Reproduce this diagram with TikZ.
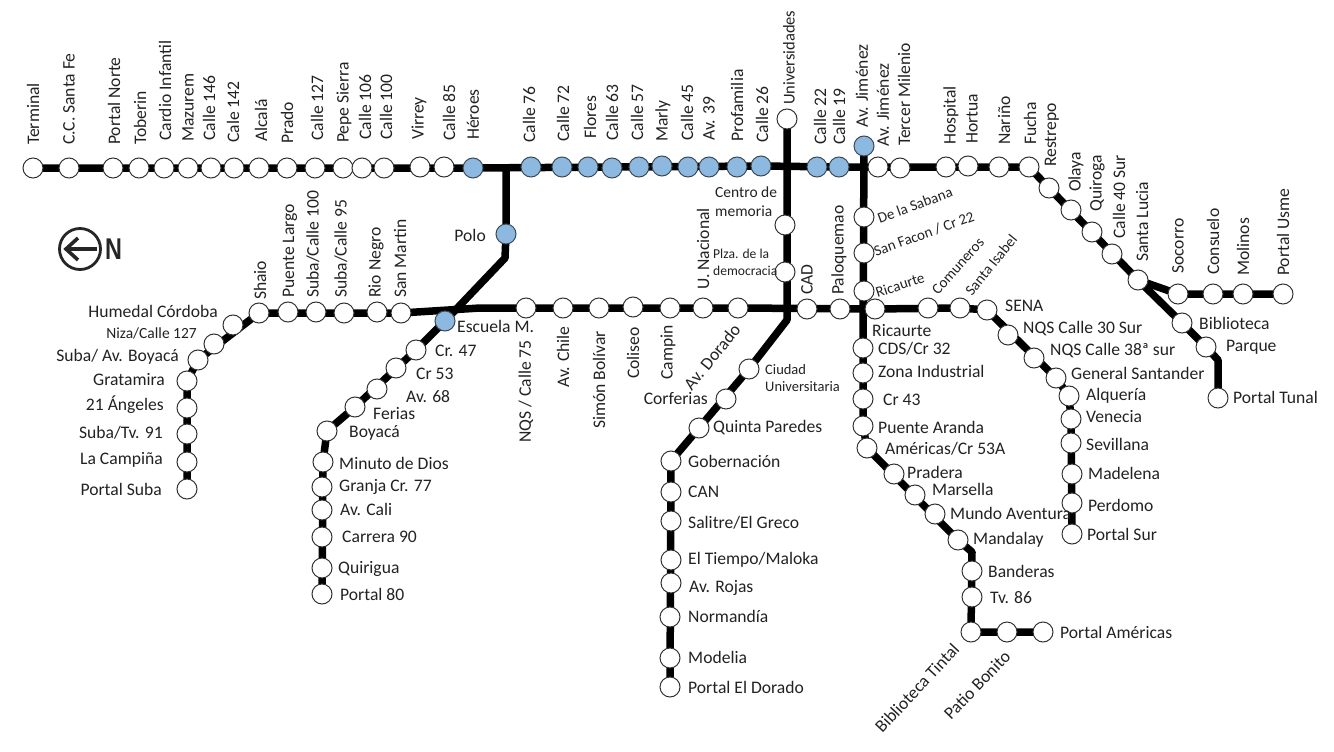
\documentclass[tikz,border=0pt]{standalone}
\usepackage{fontspec}
\setmainfont{Carlito}
\newfontfamily\nfont{Liberation Sans}
\pgfdeclarelayer{bg}
\pgfsetlayers{bg,main}
\definecolor{stblue}{HTML}{8DB8DF}
\definecolor{stedge}{HTML}{3C4A55}
\definecolor{txt}{HTML}{222222}
\tikzset{
  sta/.style={circle,draw=black!80,fill=white,line width=1pt,minimum size=20pt,inner sep=0pt},
  stb/.style={sta,fill=stblue,draw=stedge},
  lbl/.style={inner sep=0pt,text=txt,font=\fontsize{17.6}{20}\selectfont},
  small/.style={font=\fontsize{15}{17}\selectfont},
  up/.style={lbl,rotate=90,anchor=west},
  rt/.style={lbl,anchor=west},
  lf/.style={lbl,anchor=east},
  tilt/.style={lbl,rotate=#1,anchor=center},
  route/.style={line width=7.5pt,black,line join=round},
}
\newcommand\sw[3]{\node[sta] (#1) at (#2,#3) {};}
\newcommand\sbl[3]{\node[stb] (#1) at (#2,#3) {};}
\newcommand\lb[5]{\node[#2] (#1-l) at (#3,#4) {#5};}
\begin{document}
\begin{tikzpicture}[x=1pt,y=-1pt]
\useasboundingbox (0,0) rectangle (1334,752);
% ---- top line stations
\sw{terminal}{33}{168}\sw{santafe}{69}{168}\sw{pnorte}{113}{168}\sw{toberin}{139}{168}
\sw{cardio}{164}{168}\sw{mazurem}{188}{168}\sw{c146}{211}{168}\sw{c142}{234}{168}
\sw{alcala}{259}{168}\sw{prado}{287}{168}\sw{c127}{315}{168}\sw{pepe}{343}{168}
\sw{c106}{362}{168}\sw{c100}{384}{168}\sw{virrey}{420}{167}\sw{c85}{444}{167}
\sbl{heroes}{473}{168}\sbl{c76}{531}{167}\sbl{c72}{562}{167}\sbl{flores}{588}{167}
\sbl{c63}{612}{168}\sbl{c57}{639}{167}\sbl{marly}{662}{166}\sbl{c45}{688}{167}
\sbl{av39}{709}{167}\sbl{profa}{737}{167}\sbl{c26}{761}{166}\sbl{c22}{817}{167}
\sbl{c19}{839}{167}\sbl{jimenezb}{864}{146}\sw{jimenez}{878}{167}\sw{tercer}{900}{168}
\sw{hospital}{946}{167}\sw{hortua}{968}{166}\sw{narino}{999}{167}\sw{fucha}{1029}{167}
\sw{restrepo}{1049}{188}\sw{olaya}{1071}{210}\sw{quiroga}{1092}{232}\sw{c40}{1112}{254}
\sw{slucia}{1138}{280}\sw{socorro}{1178}{294}\sw{consuelo}{1213}{294}\sw{molinos}{1243}{294}
\sw{usme}{1283}{294}\sw{biblio}{1182}{323}\sw{parque}{1206}{347}\sw{tunal}{1218}{398}
% ---- 80 / suba
\sw{shaio}{259}{313}\sw{plargo}{288}{312}\sw{s100}{316}{312}\sw{s95}{344}{313}
\sw{rionegro}{377}{312}\sw{smartin}{401}{313}\sbl{escuela}{445}{321}\sbl{polo}{506}{234}
\sw{humedal}{233}{325}\sw{niza}{214}{344}\sw{subaboy}{198}{360}\sw{grata}{187}{381}
\sw{ang21}{187}{408}\sw{tv91}{187}{434}\sw{campina}{187}{462}\sw{psuba}{187}{489}
\sw{cr47}{416}{350}\sw{cr53}{396}{368}\sw{av68}{377}{389}\sw{ferias}{355}{407}
\sw{boyaca}{327}{431}\sw{minuto}{323}{462}\sw{granja}{322}{487}\sw{cali}{322}{510}
\sw{cra90}{322}{537}\sw{quirigua}{322}{568}\sw{p80}{322}{594}
% ---- calle 26 corridor
\sw{nqs75}{526}{308}\sw{chile}{563}{308}\sw{simon}{599}{308}\sw{coliseo}{633}{307}
\sw{campin}{670}{308}\sw{unal}{703}{308}\sw{dorado}{738}{308}\sw{cad}{807}{309}
\sw{paloq}{840}{309}\sw{ricn}{864}{291}\sw{ric}{875}{309}\sw{comun}{928}{308}
\sw{sisabel}{960}{308}\sw{sena}{987}{310}\sw{nq30}{1008}{335}\sw{nq38}{1034}{358}
\sw{gsant}{1056}{378}\sw{alq}{1069}{396}\sw{venecia}{1071}{419}\sw{sevilla}{1071}{443}
\sw{madel}{1072}{474}\sw{perdomo}{1072}{503}\sw{psur}{1072}{534}
\sw{univ}{787}{119}\sw{centro}{785}{225}\sw{plza}{785}{272}
\sw{ciudad}{749}{369}\sw{corf}{726}{399}\sw{quinta}{699}{428}\sw{gob}{671}{461}
\sw{can}{671}{492}\sw{salitre}{671}{521}\sw{tiempo}{671}{560}\sw{rojas}{671}{583}
\sw{norm}{670}{617}\sw{modelia}{670}{658}\sw{pdorado}{670}{687}
\sw{sabana}{864}{217}\sw{facon}{864}{253}
\sw{cds}{863}{348}\sw{zona}{863}{373}\sw{cr43}{863}{399}\sw{paranda}{863}{426}
\sw{americas}{867}{448}\sw{pradera}{894}{474}\sw{marsella}{915}{495}\sw{mundo}{935}{514}
\sw{mandalay}{958}{540}\sw{banderas}{972}{571}\sw{tv86}{972}{597}\sw{btintal}{971}{632}
\sw{patio}{1007}{632}\sw{pamer}{1043}{632}
% ---- bends
\coordinate (polobend) at (505,258);
\coordinate (polotop) at (506,167);
\coordinate (midbend) at (787,320);
\coordinate (mandb) at (972,552);
\coordinate (tunalb) at (1218,360);
\coordinate (merge) at (480,308);
\begin{pgfonlayer}{bg}
\draw[route] (terminal.center)--(heroes.center)--(c26.center)--(c19.center)--(jimenez.center)--(fucha.center)--(restrepo.center)--(slucia.center);
\draw[route] (slucia.center)--(socorro.center)--(usme.center);
\draw[route] (slucia.center)--(biblio.center)--(parque.center)--(tunalb)--(tunal.center);
\draw[route] (polotop)--(polo.center)--(polobend)--(escuela.center)--(cr47.center)--(ferias.center)--(boyaca.center)--(minuto.center)--(p80.center);
\draw[route] (psuba.center)--(grata.center)--(subaboy.center)--(shaio.center)--(smartin.center)--(merge)--(nqs75.center)--(dorado.center)--(ric.center)--(sisabel.center)--(sena.center)--(gsant.center)--(alq.center)--(venecia.center)--(psur.center);
\draw[route] (univ.center)--(midbend)--(ciudad.center)--(gob.center)--(pdorado.center);
\draw[route] (jimenezb.center)--(cds.center)--(paranda.center)--(americas.center)--(mandalay.center)--(mandb)--(btintal.center)--(pamer.center);
\end{pgfonlayer}
% ---- labels: top line
\lb{terminal}{up}{33}{145}{Terminal}
\lb{santafe}{up}{69}{145}{C.C. Santa Fe}
\lb{pnorte}{up}{114}{145}{Portal Norte}
\lb{toberin}{up}{140}{145}{Toberin}
\lb{cardio}{up}{165}{141}{Cardio Infantil}
\lb{mazurem}{up}{188}{142}{Mazurem}
\lb{c146}{up}{209}{141}{Calle 146}
\lb{c142}{up}{233}{143}{Cale 142}
\lb{alcala}{up}{261}{142}{Alcalá}
\lb{prado}{up}{287}{144}{Prado}
\lb{c127}{up}{317}{141}{Calle 127}
\lb{pepe}{up}{344}{143}{Pepe Sierra}
\lb{c106}{up}{365}{140}{Calle 106}
\lb{c100}{up}{386}{140}{Calle 100}
\lb{virrey}{up}{419}{140}{Virrey}
\lb{c85}{up}{449}{141}{Calle 85}
\lb{heroes}{up}{473}{140}{Héroes}
\lb{c76}{up}{529}{143}{Calle 76}
\lb{c72}{up}{563}{142}{Calle 72}
\lb{flores}{up}{590}{139}{Flores}
\lb{c63}{up}{612}{141}{Calle 63}
\lb{c57}{up}{637}{141}{Calle 57}
\lb{marly}{up}{663}{142}{Marly}
\lb{c45}{up}{687}{141}{Calle 45}
\lb{av39}{up}{709}{141}{Av. 39}
\lb{profa}{up}{737}{142}{Profamilia}
\lb{c26}{up}{762}{143}{Calle 26}
\lb{univ}{up,font=\fontsize{16.5}{19}\selectfont}{789}{105}{Universidades}
\lb{c22}{up}{820}{145}{Calle 22}
\lb{c19}{up}{839}{145}{Calle 19}
\lb{jimenezb}{up}{862}{128}{Av. Jiménez}
\lb{jimenez}{up}{883}{147}{Av. Jiménez}
\lb{tercer}{up}{904}{146}{Tercer Milenio}
\lb{hospital}{up}{951}{145}{Hospital}
\lb{hortua}{up}{972}{144}{Hortua}
\lb{narino}{up}{1004}{145}{Nariño}
\lb{fucha}{up}{1030}{145}{Fucha}
\lb{restrepo}{up}{1052}{167}{Restrepo}
\lb{olaya}{up}{1076}{192}{Olaya}
\lb{quiroga}{up}{1097}{212}{Quiroga}
\lb{c40}{up}{1119}{239}{Calle 40 Sur}
\lb{slucia}{up}{1142}{262}{Santa Lucia}
\lb{socorro}{up}{1178}{274}{Socorro}
\lb{consuelo}{up}{1213}{275}{Consuelo}
\lb{molinos}{up}{1243}{276}{Molinos}
\lb{usme}{up}{1283}{276}{Portal Usme}
\lb{biblio}{rt}{1199}{323}{Biblioteca}
\lb{parque}{rt}{1226}{347}{Parque}
\lb{tunal}{rt}{1233}{397}{Portal Tunal}
% ---- labels: west
\lb{polo}{lf}{486}{235}{Polo}
\lb{shaio}{up}{260}{300}{Shaio}
\lb{plargo}{up}{290}{298}{Puente Largo}
\lb{s100}{up}{313}{298}{Suba/Calle 100}
\lb{s95}{up}{341}{298}{Suba/Calle 95}
\lb{rionegro}{up}{376}{298}{Rio Negro}
\lb{smartin}{up}{400}{298}{San Martin}
\lb{escuela}{rt}{457}{326}{Escuela M.}
\lb{humedal}{lf}{218}{311}{Humedal Córdoba}
\lb{niza}{lf,font=\fontsize{15.5}{18}\selectfont}{197}{333}{Niza/Calle 127}
\lb{subaboy}{lf}{179}{357}{Suba/ Av. Boyacá}
\lb{grata}{lf}{165}{380}{Gratamira}
\lb{ang21}{lf}{164}{405}{21 Ángeles}
\lb{tv91}{lf}{163}{433}{Suba/Tv. 91}
\lb{campina}{lf}{163}{460}{La Campiña}
\lb{psuba}{lf}{162}{489}{Portal Suba}
\lb{cr47}{rt}{435}{351}{Cr. 47}
\lb{cr53}{rt}{416}{374}{Cr 53}
\lb{av68}{rt}{406}{397}{Av. 68}
\lb{ferias}{rt}{373}{414}{Ferias}
\lb{boyaca}{rt}{349}{433}{Boyacá}
\lb{minuto}{rt}{339}{463}{Minuto de Dios}
\lb{granja}{rt}{339}{487}{Granja Cr. 77}
\lb{cali}{rt}{340}{509}{Av. Cali}
\lb{cra90}{rt}{342}{537}{Carrera 90}
\lb{quirigua}{rt}{338}{569}{Quirigua}
\lb{p80}{rt}{340}{594}{Portal 80}
% ---- labels: middle
\lb{nqs75}{up}{526}{443}{NQS / Calle 75}
\lb{chile}{up}{563}{388}{Av. Chile}
\lb{simon}{up}{599}{429}{Simón Bolívar}
\lb{coliseo}{up}{633}{379}{Coliseo}
\lb{campin}{up}{668}{380}{Campin}
\lb{unal}{up}{703}{290}{U. Nacional}
\lb{dorado}{tilt=51}{712}{357}{Av. Dorado}
\lb{cad}{up}{807}{295}{CAD}
\lb{paloq}{up}{839}{295}{Paloquemao}
\node[rt,align=left,font=\fontsize{15.5}{19}\selectfont] (centro-l) at (715,201.5) {Centro de\\memoria};
\node[rt,align=left,font=\fontsize{13.6}{17}\selectfont] (plza-l) at (713,262) {Plza. de la\\democracia};
\node[rt,align=left,font=\fontsize{14.5}{17}\selectfont] (ciudad-l) at (765,378) {Ciudad\\Universitaria};
\lb{corf}{lf}{708}{399}{Corferias}
\lb{quinta}{rt}{713}{428}{Quinta Paredes}
\lb{gob}{rt}{688}{461}{Gobernación}
\lb{can}{rt}{688}{492}{CAN}
\lb{salitre}{rt}{688}{523}{Salitre/El Greco}
\lb{tiempo}{rt}{688}{560}{El Tiempo/Maloka}
\lb{rojas}{rt}{689}{588}{Av. Rojas}
\lb{norm}{rt}{688}{616}{Normandía}
\lb{modelia}{rt}{688}{657}{Modelia}
\lb{pdorado}{rt}{688}{687}{Portal El Dorado}
% ---- labels: east
\lb{sabana}{tilt=20,small}{915}{205}{De la Sabana}
\lb{facon}{tilt=20,small}{924}{234}{San Facon / Cr 22}
\lb{ricn}{tilt=18,small}{900}{285}{Ricaurte}
\lb{comun}{tilt=48,small}{958}{266}{Comuneros}
\lb{sisabel}{tilt=51,small}{991}{265}{Santa Isabel}
\lb{sena}{rt}{1005}{306}{SENA}
\lb{nq30}{rt}{1023}{329}{NQS Calle 30 Sur}
\lb{nq38}{rt}{1050}{351}{NQS Calle 38ª sur}
\lb{gsant}{rt}{1071}{373}{General Santander}
\lb{alq}{rt}{1086}{396}{Alquería}
\lb{venecia}{rt}{1086}{417}{Venecia}
\lb{sevilla}{rt}{1086}{444}{Sevillana}
\lb{madel}{rt}{1088}{473}{Madelena}
\lb{perdomo}{rt}{1088}{505}{Perdomo}
\lb{psur}{rt}{1087}{534}{Portal Sur}
\lb{ric}{rt}{872}{331}{Ricaurte}
\lb{cds}{rt}{878}{349}{CDS/Cr 32}
\lb{zona}{rt}{878}{371}{Zona Industrial}
\lb{cr43}{rt}{883}{400}{Cr 43}
\lb{paranda}{rt}{878}{427}{Puente Aranda}
\lb{americas}{rt}{885}{449}{Américas/Cr 53A}
\lb{pradera}{rt}{907}{472}{Pradera}
\lb{marsella}{rt}{932}{489}{Marsella}
\lb{mundo}{rt}{950}{513}{Mundo Aventura}
\lb{mandalay}{rt}{973}{540}{Mandalay}
\lb{banderas}{rt}{988}{571}{Banderas}
\lb{tv86}{rt}{990}{598}{Tv. 86}
\lb{pamer}{rt}{1060}{632}{Portal Américas}
\lb{btintal}{tilt=47}{917}{688}{Biblioteca Tintal}
\lb{patio}{tilt=46}{977}{685}{Patio Bonito}
% ---- north arrow
\node[circle,draw=black!85,line width=2.8pt,minimum size=41pt,inner sep=0pt] (ring) at (80,249) {};
\coordinate (tail) at (97,249);
\coordinate (tip) at (66,249);
\coordinate (barbu) at (78,238);
\coordinate (barbd) at (78,260);
\draw[black!85,line width=3.6pt,line join=miter] (barbu)--(tip)--(barbd);
\draw[black!85,line width=3.6pt] (tip)--(tail);
\node[inner sep=0pt,text=black!85,font=\nfont\bfseries\fontsize{30}{30}\selectfont,xscale=.78] (north) at (113.5,249) {N};
\end{tikzpicture}
\end{document}
